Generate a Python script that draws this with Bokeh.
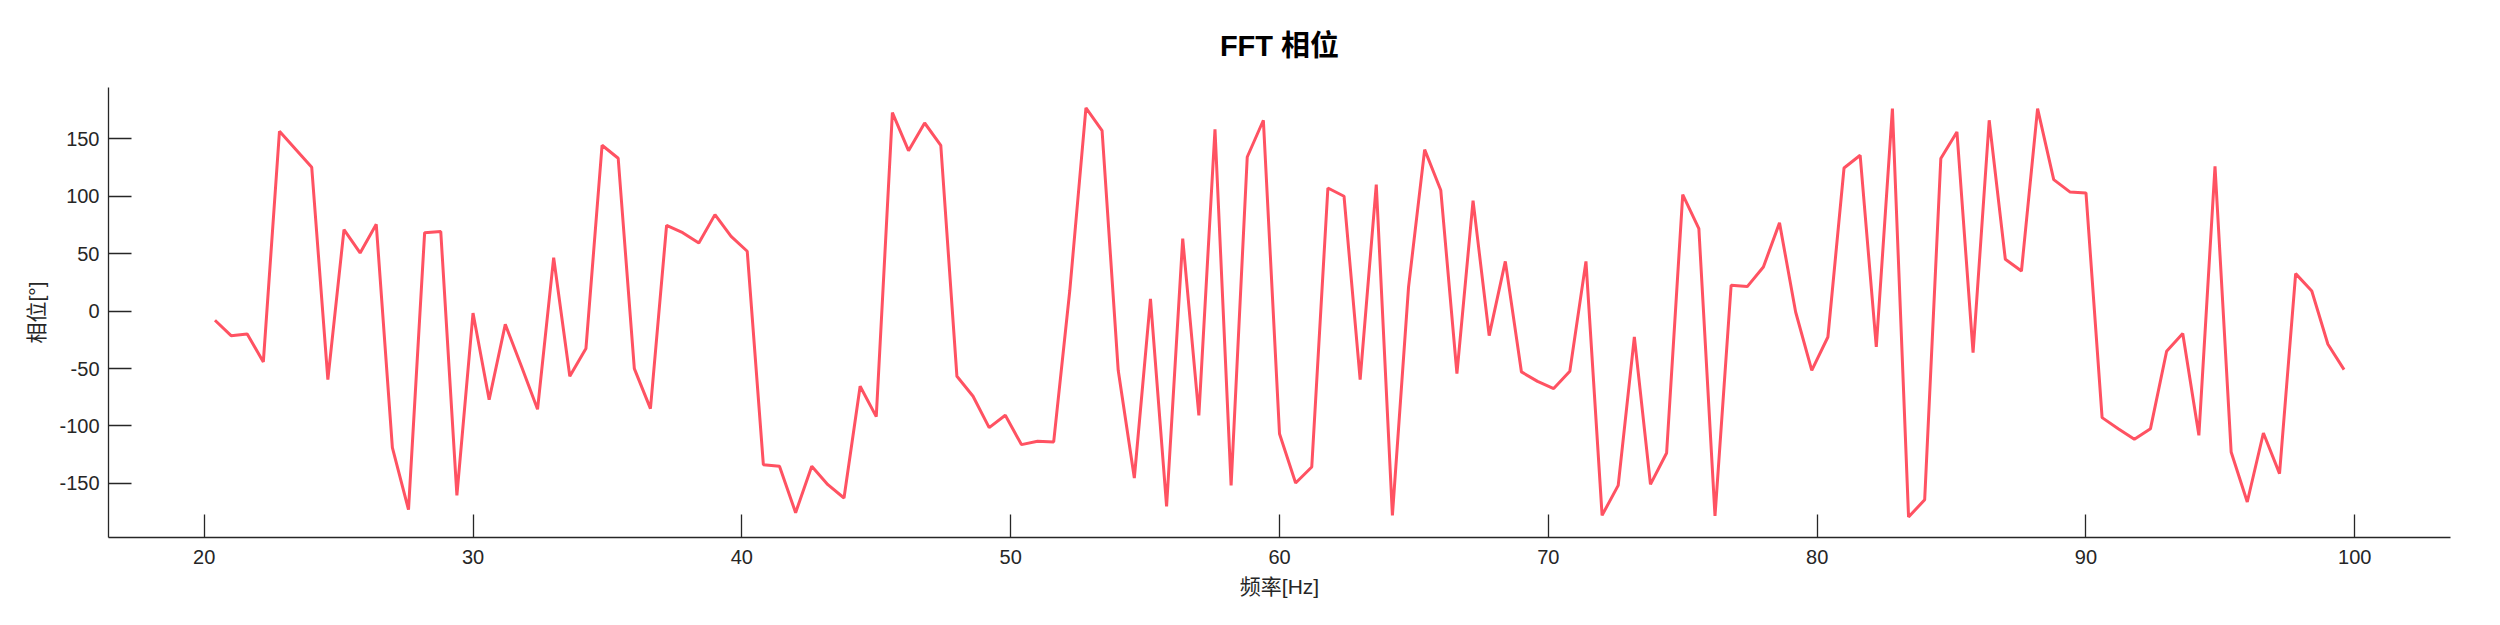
from bokeh.plotting import figure
from bokeh.models import FixedTicker, Range1d
from bokeh.embed import file_html
from bokeh.resources import INLINE

# Frequencies [Hz]: 20.4 .. 99.6 step 0.6 (133 points)
freq_start = 20.4
freq_step = 0.6
phase = [
    -7.9, -21.3, -19.8, -44.2, 156.7, 141.0, 125.3, -59.6, 71.0, 50.7,
    75.7, -118.9, -172.9, 68.4, 69.3, -160.4, -1.6, -77.1, -11.5, -48.0,
    -85.5, 46.6, -56.7, -32.6, 144.5, 133.2, -50.0, -84.9, 74.8, 68.4,
    59.4, 84.1, 65.2, 52.2, -133.7, -135.1, -175.5, -135.1, -151.1, -162.7,
    -65.4, -91.8, 172.9, 139.8, 163.9, 144.5, -56.7, -74.1, -101.4, -90.7,
    -116.2, -113.3, -113.9, 18.2, 177.0, 157.3, -51.5, -145.3, 10.7, -170.0,
    63.2, -90.7, 158.4, -151.7, 134.3, 166.3, -106.7, -149.6, -135.7, 107.3,
    100.1, -59.6, 110.2, -177.8, 21.0, 140.7, 105.3, -54.4, 96.3, -21.3,
    43.4, -52.9, -61.1, -67.4, -52.3, 43.4, -177.8, -151.7, -22.5, -150.8,
    -123.5, 101.5, 71.9, -178.4, 22.6, 21.4, 38.5, 76.9, -0.7, -51.5,
    -22.5, 124.7, 135.8, -31.1, 176.4, -179.3, -164.2, 132.9, 156.1, -36.1,
    166.3, 45.2, 35.0, 176.4, 114.6, 103.9, 103.0, -92.7, -102.3, -111.6,
    -102.3, -34.9, -19.5, -108.1, 126.1, -122.6, -166.2, -106.1, -141.5, 32.7,
    17.6, -28.8, -50.9,
]
freq = [round(freq_start + i * freq_step, 2) for i in range(len(phase))]

x_ticks = [20, 30, 40, 50, 60, 70, 80, 90, 100]
y_ticks = [-150, -100, -50, 0, 50, 100, 150]

title_text = "FFT 相位"
x_label = "频率[Hz]"
y_label = "相位[°]"

FONT = "Liberation Sans, Arial, Noto Sans CJK SC, sans-serif"
AX = "#262626"

# 5% padding like the reference
xmin, xmax = min(freq), max(freq)
ymin, ymax = min(phase), max(phase)
xpad = (xmax - xmin) * 0.05
ypad = (ymax - ymin) * 0.05

p = figure(
    width=2484, height=609,
    output_backend="svg", toolbar_location=None,
    x_range=Range1d(xmin - xpad, xmax + xpad),
    y_range=Range1d(ymin - ypad, ymax + ypad),
    min_border_left=108, min_border_right=34,
    min_border_top=87, min_border_bottom=72,
    title=title_text,
)
p.outline_line_color = None
p.background_fill_color = "white"
p.border_fill_color = "white"
p.xgrid.grid_line_color = None
p.ygrid.grid_line_color = None

p.title.align = "center"
p.title.text_font = FONT
p.title.text_font_size = "29px"
p.title.text_font_style = "bold"
p.title.text_color = "black"
p.title.standoff = 52

p.line(freq, phase, line_color="#FF5262", line_width=3)

for ax, ticks in ((p.xaxis[0], x_ticks), (p.yaxis[0], y_ticks)):
    ax.ticker = FixedTicker(ticks=ticks)
    ax.major_label_overrides = {t: str(t) for t in ticks}
    ax.minor_tick_line_color = None
    ax.major_tick_in = 23
    ax.major_tick_out = 0
    ax.axis_line_color = AX
    ax.axis_line_width = 1.3
    ax.major_tick_line_color = AX
    ax.major_tick_line_width = 1.3
    ax.major_label_text_font = FONT
    ax.major_label_text_font_size = "20px"
    ax.major_label_text_color = AX
    ax.axis_label_text_font = FONT
    ax.axis_label_text_font_size = "21px"
    ax.axis_label_text_font_style = "normal"
    ax.axis_label_text_color = AX

p.xaxis[0].axis_label = x_label
p.yaxis[0].axis_label = y_label
p.xaxis[0].major_label_standoff = 12
p.xaxis[0].axis_label_standoff = 8
p.yaxis[0].major_label_standoff = 9
p.yaxis[0].axis_label_standoff = 8

open("out.html", "w").write(file_html(p, INLINE))
